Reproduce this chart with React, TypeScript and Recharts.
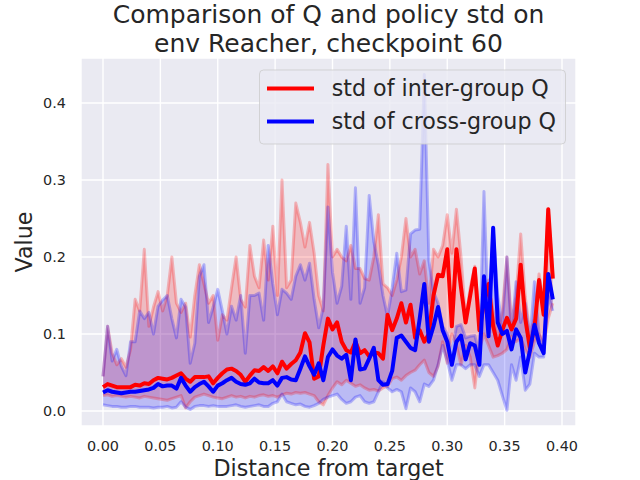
import React from 'react';
import { ComposedChart, Area, Line, XAxis, YAxis, CartesianGrid } from 'recharts';

const distance = [
  0.000, 0.004, 0.008, 0.012, 0.016, 0.020, 0.024, 0.028, 0.032, 0.036,
  0.040, 0.044, 0.048, 0.052, 0.056, 0.060, 0.064, 0.068, 0.072, 0.076,
  0.080, 0.084, 0.088, 0.092, 0.096, 0.100, 0.104, 0.108, 0.112, 0.116,
  0.120, 0.124, 0.128, 0.132, 0.136, 0.140, 0.144, 0.148, 0.152, 0.156,
  0.160, 0.164, 0.168, 0.172, 0.176, 0.180, 0.184, 0.188, 0.192, 0.196,
  0.200, 0.204, 0.208, 0.212, 0.216, 0.220, 0.224, 0.228, 0.232, 0.236,
  0.240, 0.244, 0.248, 0.252, 0.256, 0.260, 0.264, 0.268, 0.272, 0.276,
  0.280, 0.284, 0.288, 0.292, 0.296, 0.300, 0.304, 0.308, 0.312, 0.316,
  0.320, 0.324, 0.328, 0.332, 0.336, 0.340, 0.344, 0.348, 0.352, 0.356,
  0.360, 0.364, 0.368, 0.372, 0.376, 0.380, 0.384, 0.388, 0.392,
];

const interMean = [
  0.031, 0.035, 0.033, 0.031, 0.031, 0.031, 0.031, 0.034, 0.033, 0.036,
  0.035, 0.040, 0.043, 0.042, 0.041, 0.043, 0.046, 0.049, 0.042, 0.038,
  0.044, 0.044, 0.044, 0.045, 0.036, 0.043, 0.049, 0.054, 0.055, 0.052,
  0.047, 0.038, 0.046, 0.053, 0.052, 0.057, 0.052, 0.058, 0.049, 0.064,
  0.055, 0.061, 0.066, 0.076, 0.101, 0.089, 0.042, 0.045, 0.085, 0.120,
  0.106, 0.115, 0.090, 0.079, 0.076, 0.090, 0.075, 0.079, 0.071, 0.076,
  0.075, 0.068, 0.125, 0.105, 0.120, 0.140, 0.115, 0.138, 0.095, 0.105,
  0.090, 0.100, 0.150, 0.177, 0.175, 0.210, 0.110, 0.210, 0.160, 0.115,
  0.150, 0.185, 0.105, 0.140, 0.165, 0.110, 0.085, 0.105, 0.121, 0.106,
  0.120, 0.190, 0.120, 0.082, 0.108, 0.170, 0.125, 0.262, 0.172,
];

const interLow = [
  0.020, 0.021, 0.019, 0.020, 0.019, 0.018, 0.019, 0.018, 0.017, 0.019,
  0.018, 0.017, 0.016, 0.015, 0.014, 0.016, 0.018, 0.020, 0.004, 0.012,
  0.018, 0.020, 0.022, 0.020, 0.018, 0.017, 0.016, 0.018, 0.020, 0.018,
  0.019, 0.017, 0.019, 0.018, 0.020, 0.021, 0.019, 0.020, 0.018, 0.021,
  0.023, 0.022, 0.024, 0.023, 0.024, 0.022, 0.020, 0.012, 0.008, 0.020,
  0.030, 0.038, 0.034, 0.040, 0.036, 0.032, 0.034, 0.030, 0.027, 0.028,
  0.026, 0.030, 0.032, 0.042, 0.044, 0.040, 0.046, 0.050, 0.053, 0.060,
  0.066, 0.050, 0.045, 0.058, 0.090, 0.062, 0.100, 0.085, 0.060, 0.085,
  0.070, 0.030, 0.080, 0.100, 0.085, 0.070, 0.072, 0.075, 0.080, 0.097,
  0.090, 0.095, 0.080, 0.070, 0.090, 0.100, 0.085, 0.120, 0.140,
];

const interHigh = [
  0.045, 0.110, 0.075, 0.060, 0.068, 0.057, 0.080, 0.145, 0.130, 0.210,
  0.110, 0.135, 0.155, 0.130, 0.150, 0.200, 0.140, 0.128, 0.140, 0.096,
  0.150, 0.190, 0.165, 0.140, 0.150, 0.092, 0.125, 0.118, 0.160, 0.200,
  0.145, 0.135, 0.215, 0.175, 0.160, 0.222, 0.170, 0.240, 0.150, 0.300,
  0.160, 0.170, 0.270, 0.245, 0.213, 0.245, 0.205, 0.150, 0.130, 0.320,
  0.200, 0.210, 0.200, 0.195, 0.215, 0.185, 0.185, 0.172, 0.170, 0.200,
  0.255, 0.165, 0.160, 0.150, 0.170, 0.200, 0.250, 0.200, 0.210, 0.178,
  0.195, 0.140, 0.210, 0.200, 0.215, 0.255, 0.205, 0.262, 0.200, 0.120,
  0.160, 0.188, 0.120, 0.150, 0.170, 0.130, 0.100, 0.130, 0.200, 0.115,
  0.150, 0.230, 0.148, 0.100, 0.120, 0.178, 0.140, 0.262, 0.175,
];

const crossMean = [
  0.024, 0.027, 0.025, 0.024, 0.023, 0.024, 0.025, 0.025, 0.026, 0.027,
  0.028, 0.030, 0.035, 0.032, 0.033, 0.033, 0.029, 0.043, 0.033, 0.025,
  0.031, 0.035, 0.038, 0.032, 0.025, 0.033, 0.036, 0.040, 0.043, 0.038,
  0.035, 0.034, 0.036, 0.042, 0.037, 0.036, 0.036, 0.040, 0.033, 0.043,
  0.044, 0.041, 0.040, 0.055, 0.071, 0.058, 0.047, 0.062, 0.040, 0.070,
  0.080, 0.072, 0.068, 0.073, 0.040, 0.093, 0.054, 0.055, 0.068, 0.082,
  0.040, 0.034, 0.035, 0.052, 0.095, 0.098, 0.090, 0.082, 0.079, 0.120,
  0.165, 0.090, 0.110, 0.135, 0.105, 0.090, 0.060, 0.090, 0.098, 0.067,
  0.088, 0.085, 0.060, 0.175, 0.097, 0.238, 0.115, 0.100, 0.104, 0.080,
  0.106, 0.095, 0.050, 0.078, 0.112, 0.088, 0.075, 0.178, 0.145,
];

const crossLow = [
  0.008, 0.007, 0.006, 0.006, 0.005, 0.005, 0.006, 0.006, 0.005, 0.005,
  0.005, 0.004, 0.005, 0.005, 0.006, 0.004, 0.005, 0.012, 0.005, 0.002,
  0.006, 0.007, 0.007, 0.006, 0.007, 0.006, 0.006, 0.006, 0.007, 0.008,
  0.006, 0.005, 0.006, 0.007, 0.008, 0.006, 0.006, 0.010, 0.012, 0.022,
  0.012, 0.010, 0.008, 0.009, 0.006, 0.005, 0.007, 0.010, 0.015, 0.018,
  0.020, 0.022, 0.015, 0.010, 0.012, 0.018, 0.020, 0.012, 0.010, 0.012,
  0.025, 0.038, 0.030, 0.025, 0.028, 0.025, 0.003, 0.030, 0.025, 0.012,
  0.035, 0.032, 0.040, 0.060, 0.085, 0.065, 0.040, 0.060, 0.060, 0.055,
  0.060, 0.060, 0.045, 0.060, 0.060, 0.050, 0.040, 0.020, 0.001, 0.060,
  0.040, 0.070, 0.027, 0.035, 0.075, 0.070, 0.070, 0.150, 0.130,
];

const crossHigh = [
  0.045, 0.110, 0.065, 0.080, 0.058, 0.046, 0.090, 0.090, 0.130, 0.120,
  0.128, 0.100, 0.136, 0.144, 0.150, 0.120, 0.095, 0.145, 0.135, 0.062,
  0.088, 0.175, 0.190, 0.115, 0.135, 0.158, 0.130, 0.100, 0.136, 0.118,
  0.150, 0.075, 0.150, 0.150, 0.153, 0.118, 0.215, 0.165, 0.125, 0.158,
  0.153, 0.145, 0.175, 0.190, 0.170, 0.192, 0.145, 0.108, 0.135, 0.265,
  0.180, 0.140, 0.162, 0.240, 0.145, 0.290, 0.140, 0.160, 0.280, 0.220,
  0.190, 0.150, 0.122, 0.160, 0.205, 0.155, 0.157, 0.230, 0.235, 0.236,
  0.437, 0.195, 0.155, 0.140, 0.110, 0.100, 0.075, 0.110, 0.112, 0.095,
  0.097, 0.098, 0.075, 0.285, 0.110, 0.238, 0.150, 0.110, 0.200, 0.100,
  0.168, 0.115, 0.140, 0.090, 0.168, 0.100, 0.080, 0.178, 0.145,
];

const xTicks = [0, 0.05, 0.1, 0.15, 0.2, 0.25, 0.3, 0.35, 0.4];
const yTicks = [0, 0.1, 0.2, 0.3, 0.4];
const titleLines = ['Comparison of Q and policy std on', 'env Reacher, checkpoint 60'];
const xLabel = 'Distance from target';
const yLabel = 'Value';
const legendLabels = ['std of inter-group Q', 'std of cross-group Q'];
const seriesColors = ['#FF0000', '#0000FF'];

const data = distance.map((x, i) => ({
  x,
  rm: interMean[i],
  rl: interLow[i],
  rh: interHigh[i],
  rr: [interLow[i], interHigh[i]],
  bm: crossMean[i],
  bl: crossLow[i],
  bh: crossHigh[i],
  br: [crossLow[i], crossHigh[i]],
}));

const FONT = 'DejaVu Sans';
const TXT = '#262626';

const XTick = (props: any) => (
  <text x={props.x} y={451} textAnchor="middle" fontSize={14.4} fill={TXT} fontFamily={FONT}>
    {Number(props.payload.value).toFixed(2)}
  </text>
);

const YTick = (props: any) => (
  <text x={66} y={props.y + 5.2} textAnchor="end" fontSize={14.4} fill={TXT} fontFamily={FONT}>
    {Number(props.payload.value).toFixed(1)}
  </text>
);

export default function App() {
  const edge = { dot: false, activeDot: false, isAnimationActive: false, type: 'linear' as const, strokeWidth: 3, strokeOpacity: 0.25, strokeLinejoin: 'round' as const };
  return (
    <div style={{ position: 'absolute', left: 0, top: 0, width: 640, height: 480, background: '#ffffff' }}>
      <ComposedChart width={640} height={480} data={data} margin={{ top: 58, right: 64, bottom: 0, left: 0 }}>
        <CartesianGrid fill="#EAEAF2" fillOpacity={1} stroke="#FFFFFF" strokeWidth={1.4} vertical horizontal />
        <XAxis
          type="number"
          dataKey="x"
          domain={[-0.01917, 0.4122]}
          ticks={xTicks}
          tick={<XTick />}
          tickLine={false}
          axisLine={false}
          height={54}
          interval={0}
          allowDataOverflow
        />
        <YAxis
          type="number"
          domain={[-0.01948, 0.45844]}
          ticks={yTicks}
          tick={<YTick />}
          tickLine={false}
          axisLine={false}
          width={81}
          interval={0}
          allowDataOverflow
        />
        <Area dataKey="rr" type="linear" stroke="none" fill={seriesColors[0]} fillOpacity={0.2} isAnimationActive={false} dot={false} activeDot={false} />
        <Area dataKey="br" type="linear" stroke="none" fill={seriesColors[1]} fillOpacity={0.2} isAnimationActive={false} dot={false} activeDot={false} />
        <Line dataKey="rl" stroke={seriesColors[0]} {...edge} />
        <Line dataKey="rh" stroke={seriesColors[0]} {...edge} />
        <Line dataKey="bl" stroke={seriesColors[1]} {...edge} />
        <Line dataKey="bh" stroke={seriesColors[1]} {...edge} />
        <Line dataKey="rm" type="linear" stroke={seriesColors[0]} strokeWidth={4} strokeLinejoin="round" dot={false} activeDot={false} isAnimationActive={false} />
        <Line dataKey="bm" type="linear" stroke={seriesColors[1]} strokeWidth={4} strokeLinejoin="round" dot={false} activeDot={false} isAnimationActive={false} />
      </ComposedChart>
      <svg width={640} height={480} style={{ position: 'absolute', left: 0, top: 0, pointerEvents: 'none' }}>
        <text x={328.5} y={22.5} textAnchor="middle" fontSize={25} fill={TXT} fontFamily={FONT}>{titleLines[0]}</text>
        <text x={328.5} y={52.3} textAnchor="middle" fontSize={25} fill={TXT} fontFamily={FONT}>{titleLines[1]}</text>
        <text x={328.5} y={476} textAnchor="middle" fontSize={22.2} fill={TXT} fontFamily={FONT}>{xLabel}</text>
        <text x={32} y={242} textAnchor="middle" fontSize={22.2} fill={TXT} fontFamily={FONT} transform="rotate(-90 32 242)">{yLabel}</text>
        <rect x={259.5} y={70} width={306} height={74} rx={4} ry={4} fill="#EAEAF2" fillOpacity={0.8} stroke="#CCCCCC" strokeOpacity={0.8} strokeWidth={1} />
        <line x1={267} x2={314} y1={88.5} y2={88.5} stroke={seriesColors[0]} strokeWidth={4} />
        <line x1={267} x2={314} y1={121.5} y2={121.5} stroke={seriesColors[1]} strokeWidth={4} />
        <text x={331.7} y={95.7} fontSize={22.2} fill={TXT} fontFamily={FONT}>{legendLabels[0]}</text>
        <text x={331.7} y={129} fontSize={22.2} fill={TXT} fontFamily={FONT}>{legendLabels[1]}</text>
      </svg>
    </div>
  );
}
